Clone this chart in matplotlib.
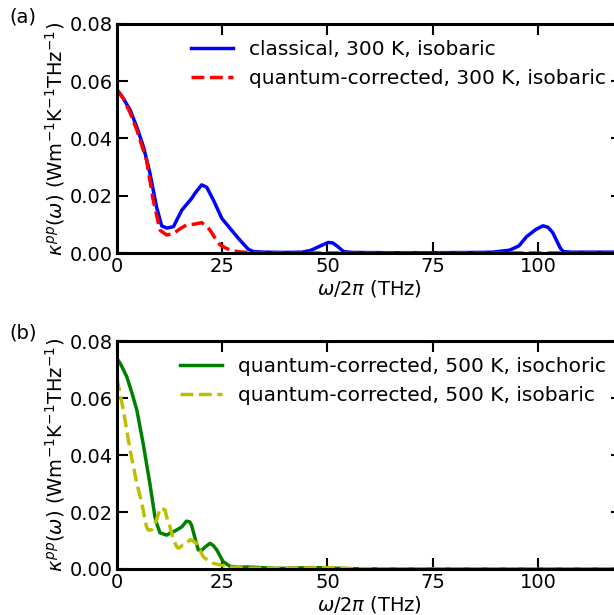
import numpy as np
import matplotlib.pyplot as plt

# painel (a): 300 K, isobarico
w_cl = [0, 1.5, 3.1, 4.7, 6.3, 7.8, 9.4, 10.6, 11.8, 13.4, 15.4, 17.7, 18.5, 20.1, 21.3,
        22.9, 24.9, 27.2, 29.2, 31.2, 32.4, 35, 40, 44, 46, 48.2, 50.2, 51.3, 52.5, 53.8,
        56, 65, 75, 85, 89.3, 93.3, 95.5, 97.3, 99.5, 101.2, 102.4, 103.5, 104.4, 105.3,
        106, 108, 115, 120]
k_cl = [0.057, 0.054, 0.050, 0.044, 0.037, 0.028, 0.016, 0.0095, 0.0087, 0.0092, 0.015,
        0.019, 0.0208, 0.0238, 0.023, 0.0185, 0.0121, 0.008, 0.0045, 0.0013, 0.0005, 0.0003,
        0.0002, 0.0003, 0.0009, 0.0024, 0.0037, 0.0035, 0.0022, 0.0005, 0.0002, 0.0001,
        0.0001, 0.0002, 0.0003, 0.001, 0.0025, 0.0057, 0.0082, 0.0095, 0.009, 0.0072,
        0.0045, 0.0018, 0.0005, 0.0003, 0.0003, 0.0003]

w_qc = [0, 1.5, 3.1, 4.7, 5.8, 7.0, 8.6, 10.2, 11.8, 13.4, 15.0, 16.5, 18.5, 20.1, 21.2,
        22.1, 23.3, 24.5, 26, 27.5, 29, 32, 40, 60, 80, 100, 120]
k_qc = [0.057, 0.054, 0.049, 0.043, 0.038, 0.0325, 0.0185, 0.008, 0.0063, 0.0068, 0.0085,
        0.0098, 0.0101, 0.0106, 0.0095, 0.008, 0.0052, 0.0028, 0.0016, 0.0008, 0.0004,
        0.0001, 0.0, 0.0, 0.0, 0.0, 0.0]

# painel (b): 500 K
w_iso = [0, 1.0, 2.3, 3.5, 4.7, 6.2, 7.8, 9.0, 9.4, 10.2, 11.8, 12.6, 13.4, 14.2, 15.4,
         16.5, 17.3, 17.7, 18.5, 19.3, 20.1, 21.0, 22.1, 22.9, 23.7, 25.2, 26.8, 28.5,
         31, 34, 38, 42, 46, 50, 55, 65, 80, 100, 120]
k_iso = [0.0739, 0.0715, 0.0675, 0.062, 0.0558, 0.0441, 0.030, 0.0184, 0.0161, 0.0127,
         0.0119, 0.0126, 0.0131, 0.0137, 0.0148, 0.0168, 0.0165, 0.0154, 0.011, 0.0067,
         0.0065, 0.0078, 0.009, 0.0082, 0.0067, 0.0026, 0.001, 0.0006, 0.0007, 0.0005,
         0.0002, 0.0003, 0.0005, 0.0004, 0.0001, 0.0, 0.0, 0.0, 0.0]

w_bar = [0, 1.5, 3.1, 3.9, 4.7, 5.5, 6.2, 7.0, 7.4, 8.2, 8.6, 9.4, 10.2, 11.0, 11.4,
         12.2, 12.6, 13.4, 14.2, 14.6, 15.7, 16.1, 17.3, 17.7, 18.9, 19.3, 20.5, 20.9,
         22.9, 25.2, 27.5, 30, 40, 46, 50, 55, 65, 80, 100, 120]
k_bar = [0.0669, 0.0558, 0.0418, 0.036, 0.030, 0.0255, 0.0207, 0.0148, 0.0137, 0.0137,
         0.0148, 0.0172, 0.0213, 0.021, 0.0207, 0.016, 0.0148, 0.0102, 0.0078, 0.0073,
         0.0084, 0.0084, 0.0102, 0.0102, 0.009, 0.0078, 0.0043, 0.0038, 0.002, 0.0012,
         0.0006, 0.0003, 0.0002, 0.0004, 0.0005, 0.0002, 0.0, 0.0, 0.0, 0.0]

plt.rcParams['font.size'] = 14
plt.rcParams['mathtext.fontset'] = 'dejavusans'

fig = plt.figure(figsize=(6.14, 6.15), dpi=100)
ax1 = fig.add_axes([0.1906, 0.5886, 0.8225, 0.3724])
ax2 = fig.add_axes([0.1906, 0.0748, 0.8225, 0.3707])

ax1.plot(w_cl, k_cl, color="b", linewidth=2.5, label="classical, 300 K, isobaric")
ax1.plot(w_qc, k_qc, color="r", linestyle="--", linewidth=2.5,
         label="quantum-corrected, 300 K, isobaric")
ax2.plot(w_iso, k_iso, color="g", linewidth=2.5,
         label="quantum-corrected, 500 K, isochoric")
ax2.plot(w_bar, k_bar, color="y", linestyle="--", linewidth=2.5,
         label="quantum-corrected, 500 K, isobaric")

for ax in (ax1, ax2):
    ax.set_xlim(0, 120)
    ax.set_ylim(0, 0.08)
    ax.set_xticks([0, 25, 50, 75, 100])
    ax.set_yticks([0, 0.02, 0.04, 0.06, 0.08])
    ax.set_yticklabels(["0.00", "0.02", "0.04", "0.06", "0.08"])
    ax.tick_params(direction="in", top=True, right=True, length=8, width=1.5, pad=3)
    for s in ax.spines.values():
        s.set_linewidth(2.2)
    ax.set_xlabel(r"$\omega/2\pi$ (THz)", labelpad=1)
    ax.set_ylabel(r"$\kappa^{pp}(\omega)$ (Wm$^{-1}$K$^{-1}$THz$^{-1}$)", labelpad=2)
    ax.legend(frameon=False, loc="upper right", fontsize=14.5, handlelength=2.1,
              borderaxespad=0.4)

fig.text(0.016, 0.972, "(a)", va="center", ha="left")
fig.text(0.016, 0.458, "(b)", va="center", ha="left")

fig.savefig("out.png", dpi=100)
